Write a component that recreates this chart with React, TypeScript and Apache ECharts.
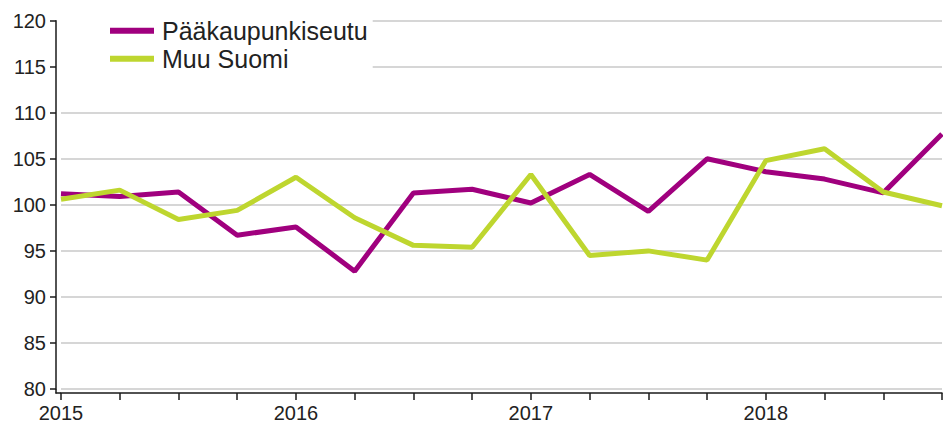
import React, { useEffect, useRef } from "react";
import * as echarts from "echarts";

const quarters = [
  "2015Q1", "2015Q2", "2015Q3", "2015Q4",
  "2016Q1", "2016Q2", "2016Q3", "2016Q4",
  "2017Q1", "2017Q2", "2017Q3", "2017Q4",
  "2018Q1", "2018Q2", "2018Q3", "2018Q4",
];
const paakaupunkiseutu = [101.2, 100.9, 101.4, 96.7, 97.6, 92.8, 101.3, 101.7, 100.2, 103.3, 99.3, 105.0, 103.6, 102.8, 101.3, 107.7];
const muuSuomi = [100.6, 101.6, 98.4, 99.4, 103.0, 98.6, 95.6, 95.4, 103.3, 94.5, 95.0, 94.0, 104.8, 106.1, 101.4, 99.9];
const seriesNames = ["Pääkaupunkiseutu", "Muu Suomi"];
const colors = ["#a0007e", "#bed62f"];

const FONT = "'Liberation Sans', Arial, sans-serif";

export default function App() {
  const ref = useRef<HTMLDivElement>(null);
  useEffect(() => {
    document.body.style.margin = "0";
    const chart = echarts.init(ref.current!, null, { renderer: "svg" });
    chart.setOption({
      animation: false,
      backgroundColor: "#ffffff",
      grid: { left: 61, right: 1, top: 20.7, bottom: 43, containLabel: false },
      legend: {
        orient: "vertical",
        left: 57,
        top: 6.7,
        padding: [10, 5, 5, 53],
        backgroundColor: "#ffffff",
        itemWidth: 44,
        itemHeight: 6,
        itemGap: 0,
        icon: "rect",
        data: seriesNames,
        textStyle: {
          fontFamily: FONT,
          fontSize: 25,
          lineHeight: 28,
          color: "#222222",
          padding: [0, 0, 0, 3],
        },
      },
      xAxis: {
        type: "category",
        data: quarters,
        boundaryGap: false,
        offset: 4,
        axisLine: { show: true, lineStyle: { color: "#1a1a1a", width: 1.5 } },
        axisTick: { show: true, interval: 0, length: 7, lineStyle: { color: "#1a1a1a", width: 1.5 } },
        axisLabel: {
          interval: 3,
          margin: 10,
          fontFamily: FONT,
          fontSize: 20,
          color: "#222222",
          formatter: (v: string) => v.slice(0, 4),
        },
        splitLine: { show: false },
      },
      yAxis: {
        type: "value",
        min: 80,
        max: 120,
        interval: 5,
        offset: 5,
        axisLine: { show: true, lineStyle: { color: "#1a1a1a", width: 1.5 } },
        axisTick: { show: true, length: 6, lineStyle: { color: "#1a1a1a", width: 1.5 } },
        axisLabel: {
          margin: 10,
          fontFamily: FONT,
          fontSize: 20,
          color: "#222222",
        },
        splitLine: { show: true, lineStyle: { color: "#c8c8c8", width: 1.5 } },
      },
      graphic: [
        {
          type: "line",
          shape: { x1: 56, y1: 389, x2: 56, y2: 393.5 },
          style: { stroke: "#1a1a1a", lineWidth: 1.5 },
          silent: true,
        },
        {
          type: "line",
          shape: { x1: 55.5, y1: 393, x2: 61, y2: 393 },
          style: { stroke: "#1a1a1a", lineWidth: 1.5 },
          silent: true,
        },
      ],
      series: [
        {
          name: seriesNames[0],
          type: "line",
          data: paakaupunkiseutu,
          showSymbol: false,
          symbol: "none",
          lineStyle: { color: colors[0], width: 5 },
          itemStyle: { color: colors[0] },
        },
        {
          name: seriesNames[1],
          type: "line",
          data: muuSuomi,
          showSymbol: false,
          symbol: "none",
          lineStyle: { color: colors[1], width: 5 },
          itemStyle: { color: colors[1] },
        },
      ],
    });
    return () => chart.dispose();
  }, []);
  return <div ref={ref} style={{ position: "absolute", left: 0, top: 0, width: 943, height: 432 }} />;
}
